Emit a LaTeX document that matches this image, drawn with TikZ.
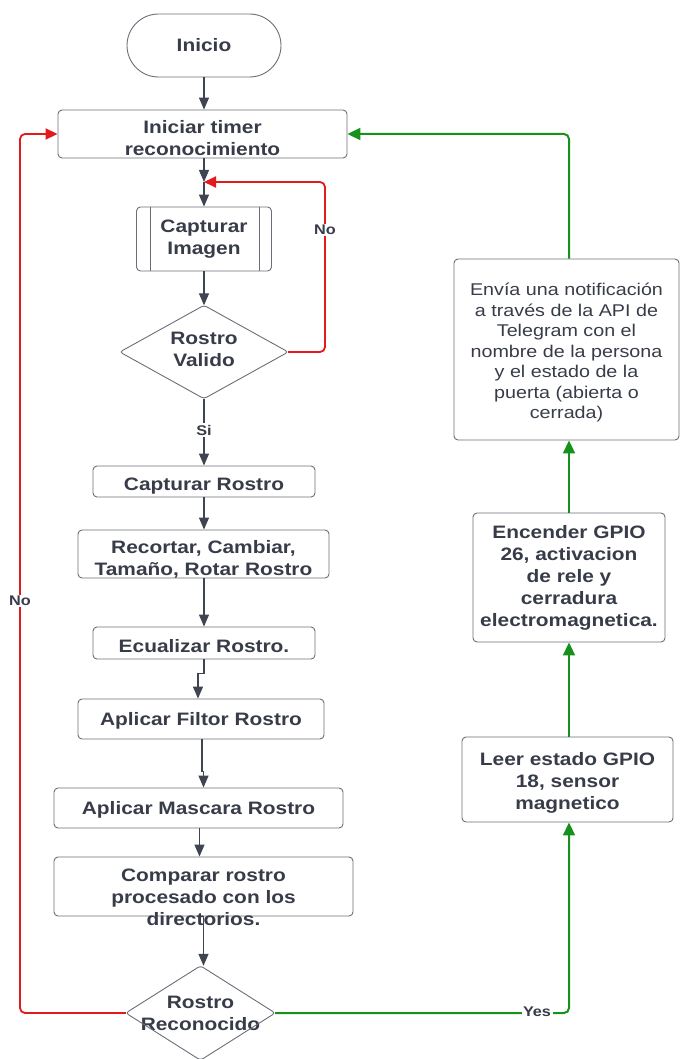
\documentclass[tikz,border=0pt]{standalone}
\usepackage{fontspec}
\setmainfont{Liberation Sans}[FakeStretch=1.16]
\usetikzlibrary{arrows.meta}
\definecolor{txt}{HTML}{373C48}
\definecolor{bord}{HTML}{6A6E78}
\definecolor{arrc}{HTML}{3F4451}
\definecolor{rd}{HTML}{E3191C}
\definecolor{gr}{HTML}{16911B}
\newcommand\dn[1]{\rule{0pt}{#1pt}}
\newcommand\upd[1]{\rule[-#1pt]{0pt}{#1pt}}
\begin{document}
\begin{tikzpicture}[x=1pt,y=-1pt,
 box/.style={draw=bord, line width=0.9pt, rounded corners=4pt, text=txt, font=\bfseries\fontsize{18}{22}\selectfont, align=center, inner sep=0pt},
 plain/.style={text=txt, font=\bfseries\fontsize{18}{22}\selectfont, align=center, inner sep=0pt},
 darr/.style={draw=arrc, line width=1.3pt, -{Triangle[length=12pt,width=10pt]}},
 rarr/.style={draw=rd, line width=1.8pt, rounded corners=5pt, -{Triangle[length=12pt,width=11pt]}},
 garr/.style={draw=gr, line width=2pt, rounded corners=5pt, -{Triangle[length=13pt,width=12pt]}},
 lbl/.style={fill=white, text=txt, font=\bfseries\fontsize{14}{16}\selectfont, inner sep=1.5pt}
]
\useasboundingbox (0,0) rectangle (680,1059);

% nodes
\node[box, rounded corners=31.5pt, minimum width=154pt, minimum height=63pt] (start) at (204,45.5) {Inicio};
\node[box, minimum width=289pt, minimum height=48pt] (ini) at (202.5,134) {\dn{21}Iniciar timer\\reconocimiento};
\coordinate (j) at (204,182);
\node[box, minimum width=135pt, minimum height=64pt] (cimg) at (204,239) {Capturar\\Imagen};
\draw[bord, line width=0.9pt] ([xshift=14pt]cimg.north west) -- ([xshift=14pt]cimg.south west);
\draw[bord, line width=0.9pt] ([xshift=-13pt]cimg.north east) -- ([xshift=-13pt]cimg.south east);
\node[plain, minimum width=168pt, minimum height=93pt] (val) at (204,352) {Rostro\\Valido\upd{6}};
\draw[bord, line width=0.9pt, rounded corners=3pt] (val.north) -- (val.east) -- (val.south) -- (val.west) -- cycle;

\node[box, minimum width=222pt, minimum height=31pt] (cro) at (204,481.5) {\dn{21}Capturar Rostro};
\node[box, minimum width=251pt, minimum height=48pt] (rec) at (203.5,554) {\dn{23}Recortar, Cambiar,\\Tamaño, Rotar Rostro};
\node[box, minimum width=222pt, minimum height=32pt] (ecu) at (204,643) {\dn{19}Ecualizar Rostro.};
\node[box, minimum width=246pt, minimum height=40pt] (fil) at (201,719) {\dn{17}Aplicar Filtor Rostro};
\node[box, minimum width=289pt, minimum height=40pt] (mas) at (198.5,808) {\dn{17}Aplicar Mascara Rostro};
\node[box, minimum width=299pt, minimum height=59pt] (cmp) at (203.5,886.5) {};
\node[plain] (cmpt) at (203.5,897) {Comparar rostro\\procesado con los\\directorios.};

\node[plain, minimum width=149pt, minimum height=94pt] (rco) at (200.5,1013) {Rostro\\Reconocido};
\draw[bord, line width=0.9pt, rounded corners=3pt] (rco.north) -- (rco.east) -- (rco.south) -- (rco.west) -- cycle;

\node[box, minimum width=211pt, minimum height=85pt] (leer) at (567.5,779.5) {\dn{19}Leer estado GPIO\\18, sensor\\magnetico};
\node[box, minimum width=192pt, minimum height=129pt] (enc) at (569,577.5) {Encender GPIO\\26, activacion\\de rele y\\cerradura\\electromagnetica.};
\node[box, font=\fontsize{17}{20.5}\selectfont, minimum width=225pt, minimum height=181pt] (env) at (566.5,349.5) {\dn{19}Envía una notificación\\a través de la API de\\Telegram con el\\nombre de la persona\\y el estado de la\\puerta (abierta o\\cerrada)};

% connectors
\draw[darr] (start.south) -- (ini.north -| start.south);
\draw[darr] (ini.south -| j) -- (j);
\draw[darr] (j) -- (cimg.north);
\draw[darr] (cimg.south) -- (val.north);
\coordinate (vr) at (325,182);
\draw[rarr] (val.east) -| (vr) -- (j);
\node[lbl] (no1) at (325,230) {No};
\draw[darr] (val.south) -- node[lbl, pos=0.47] (si) {Si} (cro.north -| val.south);
\draw[darr] (cro.south) -- (rec.north -| cro.south);
\draw[darr] (rec.south -| cro.south) -- (ecu.north);
\draw[darr] (ecu.south) -- ++(0,14) -| ([xshift=-3pt]fil.north);
\draw[darr] ([xshift=1pt]fil.south) -- ++(0,32) -| ([xshift=5pt]mas.north);
\draw[darr] ([xshift=1pt]mas.south) -- ([xshift=1pt]mas.south |- cmp.north);
\draw[darr] (cmp.south) -- (rco.north -| cmp.south);

\coordinate (lb) at (20,1013);
\coordinate (lt) at (20,134);
\draw[rarr] (rco.west) -- (lb) -- (lt) -- (ini.west);
\node[lbl] (no2) at (20,601) {No};

\coordinate (gb) at (569,1013);
\draw[garr] (rco.east) -- (gb) -- (gb |- leer.south);
\node[lbl] (yes) at (537,1012) {Yes};
\draw[garr] (leer.north -| gb) -- (enc.south -| gb);
\draw[garr] (enc.north -| gb) -- (env.south -| gb);
\draw[garr] (env.north -| gb) |- (ini.east);
\end{tikzpicture}
\end{document}
